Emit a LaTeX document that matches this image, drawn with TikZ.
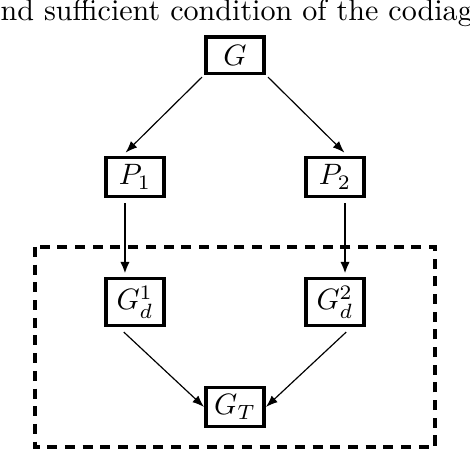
\documentclass[tikz,border=0pt]{standalone}
\usetikzlibrary{arrows.meta}

\begin{document}
\begin{tikzpicture}[
 box/.style={draw,line width=1.2pt,inner sep=2.5pt,minimum width=19.8pt,minimum height=12.4pt},
 link/.style={thin,-{Latex[length=4pt,width=3pt]}},
 drop/.style={thick,-{Latex[length=4pt,width=3.2pt]}}]
\useasboundingbox (0,0) rectangle (5.602,-5.340);
\node[anchor=base west,inner sep=0pt,font=\fontsize{10.2}{12}\selectfont] (title) at (0,-0.25) {nd sufficient condition of the codiagr};

\node[box] (G) at (2.801,-0.656) {$G$};
\node[box] (P1) at (1.609,-2.110) {$P_1$};
\node[box] (P2) at (3.993,-2.110) {$P_2$};
\node[box] (Gd1) at (1.609,-3.600) {$G_d^1$};
\node[box] (Gd2) at (3.993,-3.600) {$G_d^2$};
\node[box] (GT) at (2.801,-4.851) {$G_T$};

\draw[line width=1.1pt,dash pattern=on 3.4pt off 2.6pt] (0.417,-2.944) rectangle (5.185,-5.328);

\draw[link,shorten <=1pt] (G.south west) -- ([xshift=-3.2pt,yshift=1pt]P1.north);
\draw[link,shorten <=1pt] (G.south east) -- ([xshift=3.2pt,yshift=1pt]P2.north);
\draw[drop] ([xshift=-3.4pt,yshift=-1.6pt]P1.south) -- ([xshift=-3.4pt,yshift=1pt]Gd1.north);
\draw[drop] ([xshift=3.4pt,yshift=-1.6pt]P2.south) -- ([xshift=3.4pt,yshift=1pt]Gd2.north);
\draw[link] ([xshift=-3.8pt,yshift=-1.6pt]Gd1.south) -- (GT.west);
\draw[link] ([xshift=3.8pt,yshift=-1.6pt]Gd2.south) -- (GT.east);
\end{tikzpicture}
\end{document}
